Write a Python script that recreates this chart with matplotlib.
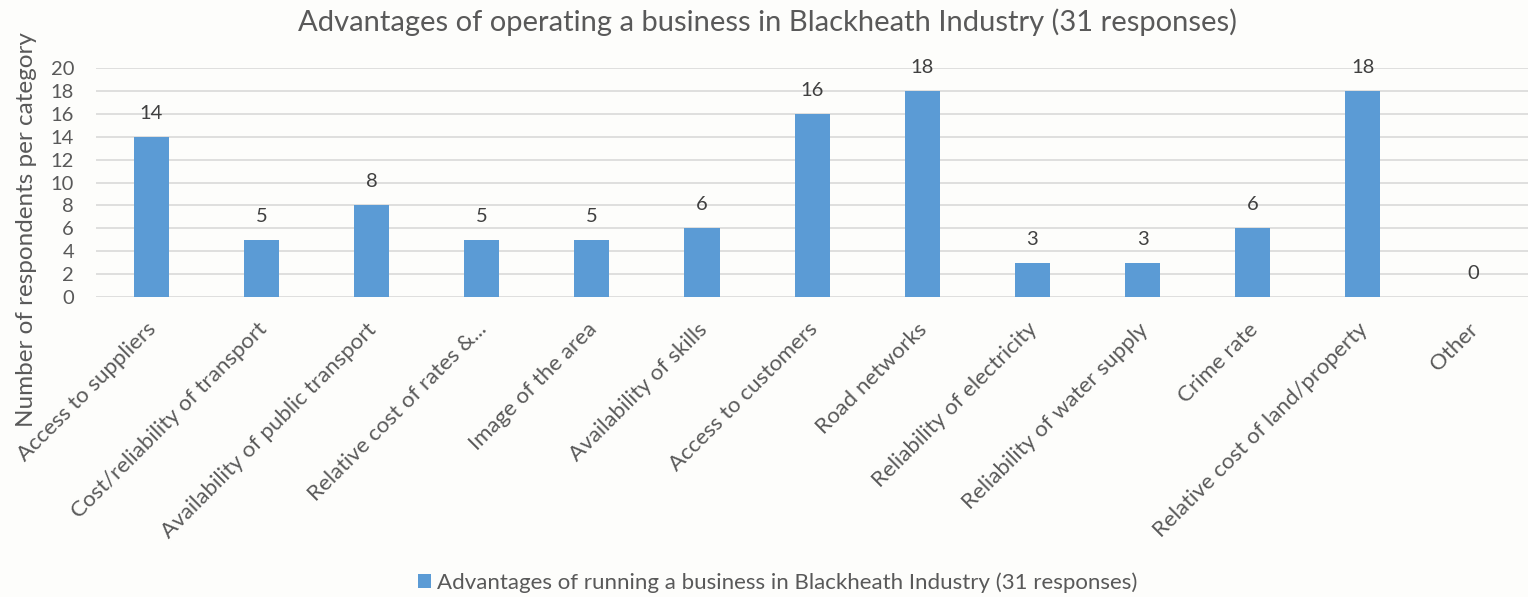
import matplotlib
matplotlib.use("Agg")
import matplotlib.pyplot as plt
import matplotlib.transforms as mtransforms

categories = ["Access to suppliers", "Cost/reliability of transport",
              "Availability of public transport", "Relative cost of rates &...",
              "Image of the area", "Availability of skills", "Access to customers",
              "Road networks", "Reliability of electricity", "Reliability of water supply",
              "Crime rate", "Relative cost of land/property", "Other"]
values = [14, 5, 8, 5, 5, 6, 16, 18, 3, 3, 6, 18, 0]
yticks = [0, 2, 4, 6, 8, 10, 12, 14, 16, 18, 20]
title = "Advantages of operating a business in Blackheath Industry (31 responses)"
series_name = "Advantages of running a business in Blackheath Industry (31 responses)"
ylabel = "Number of respondents per category"

plt.rcParams['font.family'] = ['Lato', 'DejaVu Sans']
BG = "#fdfdfb"
BAR = "#5b9bd5"
TXT = "#595959"

fig = plt.figure(figsize=(15.28, 5.97), dpi=100, facecolor=BG)
ax = fig.add_axes([0.063, 0.5025, 0.937, 0.3835], facecolor=BG)

x = list(range(len(categories)))
bars = ax.bar(x, values, width=0.32, color=BAR, zorder=3, label=series_name)
ax.set_xlim(-0.5, len(categories) - 0.5)
ax.set_ylim(0, 20)
ax.set_yticks(yticks)
ax.yaxis.grid(True, color="#d9d9d9", linewidth=1.2, zorder=0)
ax.set_axisbelow(True)
for s in ax.spines.values():
    s.set_visible(False)
ax.tick_params(axis='both', length=0, colors=TXT)
ax.tick_params(axis='y', pad=16, labelsize=14.5)
ax.set_xticks(x)
ax.set_xticklabels(categories, rotation=45, ha='right', va='top',
                   rotation_mode='anchor', color=TXT, fontsize=16)
ax.tick_params(axis='x', pad=16)
offset = mtransforms.ScaledTranslation(-5 / 100, 0, fig.dpi_scale_trans)
for lbl in ax.get_xticklabels():
    lbl.set_transform(lbl.get_transform() + offset)

for xi, v in zip(x, values):
    ax.annotate(str(v), (xi, v), xytext=(0, 17), textcoords='offset points',
                ha='center', va='center', fontsize=14.5, color="#404040")

fig.text(27 / 1528, 1 - 230 / 597, ylabel, rotation=90, ha='center', va='center',
         fontsize=17.5, color=TXT)

fig.text(0.502, 0.963, title, ha='center', va='center', fontsize=21, color=TXT)

fig.legend(handles=[bars], labels=[series_name], loc='center', bbox_to_anchor=(0.509, 0.024),
           frameon=False, fontsize=16, labelcolor=TXT, handlelength=0.6, handleheight=0.6,
           handletextpad=0.25)

fig.savefig("out.png", dpi=100, facecolor=BG)
